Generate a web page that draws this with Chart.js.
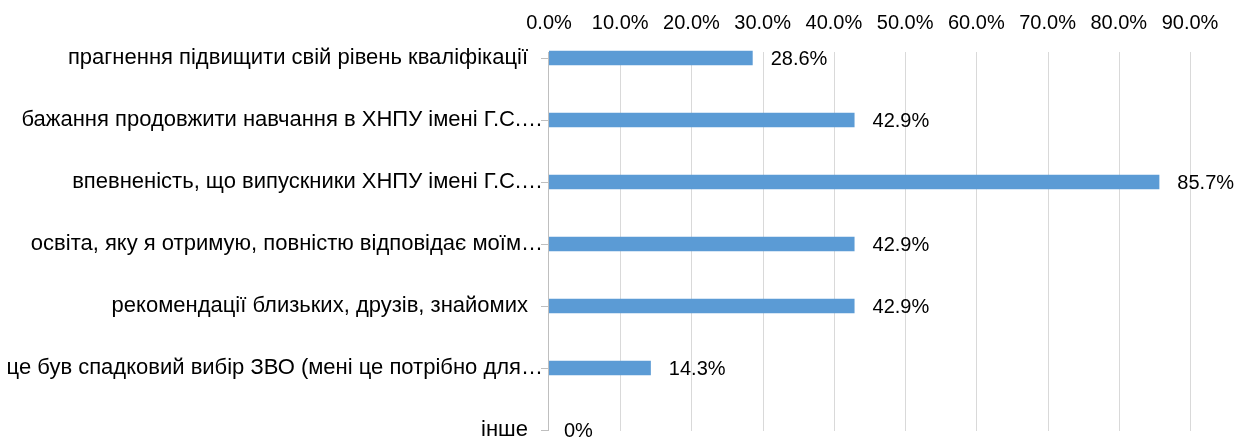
<!DOCTYPE html>
<html>
<head>
<meta charset="utf-8">
<script src="https://cdn.jsdelivr.net/npm/chart.js@4.4.1/dist/chart.umd.min.js"></script>
<style>
  html, body { margin: 0; padding: 0; background: #fff; }
  #wrap { width: 1254px; height: 441px; overflow: hidden; position: relative; }
</style>
</head>
<body>
<div id="wrap"><canvas id="myChart" width="1254" height="441"></canvas></div>
<script>
var categories = [
  "прагнення підвищити свій рівень кваліфікації",
  "бажання продовжити навчання в ХНПУ імені Г.С.…",
  "впевненість, що випускники ХНПУ імені Г.С.…",
  "освіта, яку я отримую, повністю відповідає моїм…",
  "рекомендації близьких, друзів, знайомих",
  "це був спадковий вибір ЗВО (мені це потрібно для…",
  "інше"
];
var values = [28.6, 42.9, 85.7, 42.9, 42.9, 14.3, 0];
var valueLabels = ["28.6%", "42.9%", "85.7%", "42.9%", "42.9%", "14.3%", "0%"];
var tickLabels = ["0.0%", "10.0%", "20.0%", "30.0%", "40.0%", "50.0%", "60.0%", "70.0%", "80.0%", "90.0%"];

var fontFamily = "'Liberation Sans', Arial, sans-serif";
var ctx1 = document.getElementById("myChart");

// gridlines, category labels and value labels, all placed from the chart scales
const gridAndLabels = {
  id: 'gridAndLabels',
  beforeDatasetsDraw(chart) {
    const ctx = chart.ctx;
    const x = chart.scales.x;
    const area = chart.chartArea;
    const top = area.top - 6;
    const bottom = area.bottom + 1;
    ctx.save();
    ctx.lineWidth = 1;
    ctx.strokeStyle = '#d9d9d9';
    for (let i = 1; i < tickLabels.length; i++) {
      const px = Math.round(x.getPixelForValue(i * 10)) + 0.5;
      ctx.beginPath();
      ctx.moveTo(px, top);
      ctx.lineTo(px, bottom);
      ctx.stroke();
    }
    ctx.strokeStyle = '#bfbfbf';
    const x0 = Math.round(x.getPixelForValue(0)) - 0.5;
    ctx.beginPath();
    ctx.moveTo(x0, top);
    ctx.lineTo(x0, bottom);
    ctx.stroke();
    ctx.restore();
  },
  afterDatasetsDraw(chart) {
    const ctx = chart.ctx;
    const meta = chart.getDatasetMeta(0);
    const y = chart.scales.y;
    const area = chart.chartArea;
    ctx.save();
    ctx.fillStyle = '#000';
    ctx.textBaseline = 'middle';

    // value labels
    ctx.font = '20px ' + fontFamily;
    ctx.textAlign = 'left';
    meta.data.forEach(function (bar, i) {
      ctx.fillText(valueLabels[i], bar.x + (values[i] === 0 ? 15 : 18), bar.y + 1);
    });

    // category labels (cut-off ones sit closer to the axis, like excel does)
    ctx.font = '22px ' + fontFamily;
    ctx.textAlign = 'right';
    categories.forEach(function (c, i) {
      const right = c.endsWith('…') ? area.left - 6 : area.left - 21;
      ctx.fillText(c, right, y.getPixelForValue(i));
    });
    ctx.restore();
  }
};

const config = {
  type: 'bar',
  data: {
    labels: categories,
    datasets: [{
      data: values,
      backgroundColor: '#5b9bd5',
      borderWidth: 0,
      categoryPercentage: 0.23,
      barPercentage: 1.0,
      clip: false
    }]
  },
  options: {
    indexAxis: 'y',
    responsive: false,
    animation: false,
    layout: { padding: { left: 0, right: 64, top: 0, bottom: 11 } },
    plugins: { legend: { display: false }, tooltip: { enabled: false } },
    scales: {
      x: {
        position: 'top',
        min: 0,
        max: 90,
        ticks: {
          stepSize: 10,
          padding: 23,
          color: '#000',
          font: { family: fontFamily, size: 20 },
          callback: function (v, idx) { return tickLabels[idx]; }
        },
        grid: { display: false, drawTicks: false },
        border: { display: false },
        afterFit: function (scale) { scale.height = 58; }
      },
      y: {
        offset: false,
        ticks: { display: false, autoSkip: false },
        grid: {
          drawOnChartArea: false,
          drawTicks: true,
          tickLength: 8,
          offset: false,
          color: '#bfbfbf'
        },
        border: { display: false },
        afterFit: function (scale) { scale.width = 549; }
      }
    }
  },
  plugins: [gridAndLabels]
};

const myChart = new Chart(ctx1, config);
</script>
</body>
</html>
